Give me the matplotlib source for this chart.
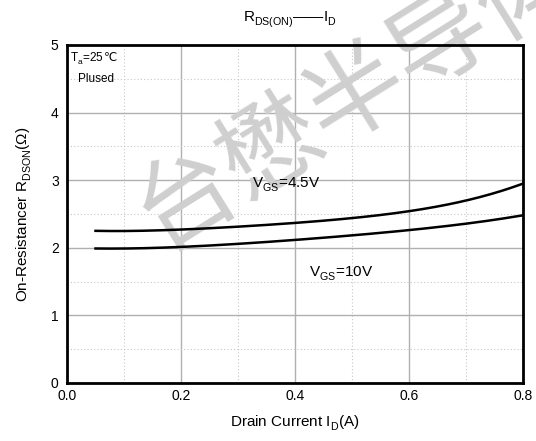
import matplotlib

matplotlib.use("Agg")

import matplotlib.pyplot as plt
import numpy as np
from matplotlib import _mathtext
from matplotlib.ticker import MultipleLocator

plt.rcParams["font.family"] = ["Liberation Sans", "DejaVu Sans", "Noto Sans CJK SC"]
plt.rcParams["mathtext.fontset"] = "custom"
plt.rcParams["mathtext.rm"] = "Liberation Sans"
plt.rcParams["mathtext.it"] = "Liberation Sans"
# the datasheet drops its subscripts lower than mathtext does
_mathtext.FontConstantsBase.sub1 = 0.55
_mathtext.FontConstantsBase.subdrop = 0.6

# drain current (A) and on-resistance (ohm)
id_a = [0.05, 0.1, 0.2, 0.3, 0.4, 0.5, 0.6, 0.7, 0.8]
r_vgs45 = [2.25, 2.25, 2.27, 2.31, 2.37, 2.44, 2.54, 2.70, 2.95]
r_vgs10 = [1.99, 1.99, 2.01, 2.06, 2.12, 2.18, 2.26, 2.36, 2.48]

fig = plt.figure(figsize=(5.36, 4.41), dpi=100)
ax = fig.add_axes([67 / 536, 1 - 383 / 441, 456 / 536, 338 / 441])

# smooth the read points for drawing
xs = np.linspace(id_a[0], id_a[-1], 200)
for r in (r_vgs45, r_vgs10):
    coef = np.polyfit(id_a, r, 4)
    ax.plot(xs, np.polyval(coef, xs), color="black", lw=1.8, zorder=3)

ax.set_xlim(0, 0.8)
ax.set_ylim(0, 5)
ax.xaxis.set_major_locator(MultipleLocator(0.2))
ax.xaxis.set_minor_locator(MultipleLocator(0.1))
ax.yaxis.set_major_locator(MultipleLocator(1))
ax.yaxis.set_minor_locator(MultipleLocator(0.5))
ax.xaxis.set_major_formatter(matplotlib.ticker.FormatStrFormatter("%.1f"))
ax.grid(which="major", color="#b0b0b0", lw=1.0)
ax.grid(which="minor", color="#c8c8c8", lw=0.8, ls=(0, (1, 2)))
ax.tick_params(which="both", length=0, labelsize=10)
ax.tick_params(axis="x", pad=4)
ax.tick_params(axis="y", pad=6)
for s in ax.spines.values():
    s.set_linewidth(2)

ax.set_xlabel("Drain Current I$_\\mathrm{D}$(A)", fontsize=11, labelpad=8)
ax.set_ylabel("On-Resistancer R$_\\mathrm{DSON}$(Ω)", fontsize=11, labelpad=12)
fig.text(0.54, 0.955, "R$_\\mathrm{DS(ON)}$——I$_\\mathrm{D}$", ha="center", va="center", fontsize=11)

# T_a=25℃ : mathtext font has no ℃, so the sign is a second text on the same baseline
ta = ax.text(0.005, 4.76, "T$_\\mathrm{a}$=25", fontsize=8.5, va="baseline")
fig.canvas.draw()
w = ta.get_window_extent().width
ax.annotate("℃", xy=(0.005, 4.76), xytext=(w, 0), textcoords="offset pixels",
            fontsize=8.5, va="baseline", family=["DejaVu Sans"])
ax.text(0.02, 4.5, "Plused", fontsize=8.5, va="center")
ax.text(0.325, 2.93, "V$_\\mathrm{GS}$=4.5V", fontsize=11, va="center")
ax.text(0.425, 1.62, "V$_\\mathrm{GS}$=10V", fontsize=11, va="center")

# watermark, over the grid but under the curves
ax.text(0.665, 0.79, "台懋半导体", fontsize=72, color="#cfcfcf",
        rotation=32, ha="center", va="center", family=["Noto Sans CJK SC"],
        transform=fig.transFigure, clip_on=False, zorder=2.5)

fig.savefig("out.png", dpi=100)
